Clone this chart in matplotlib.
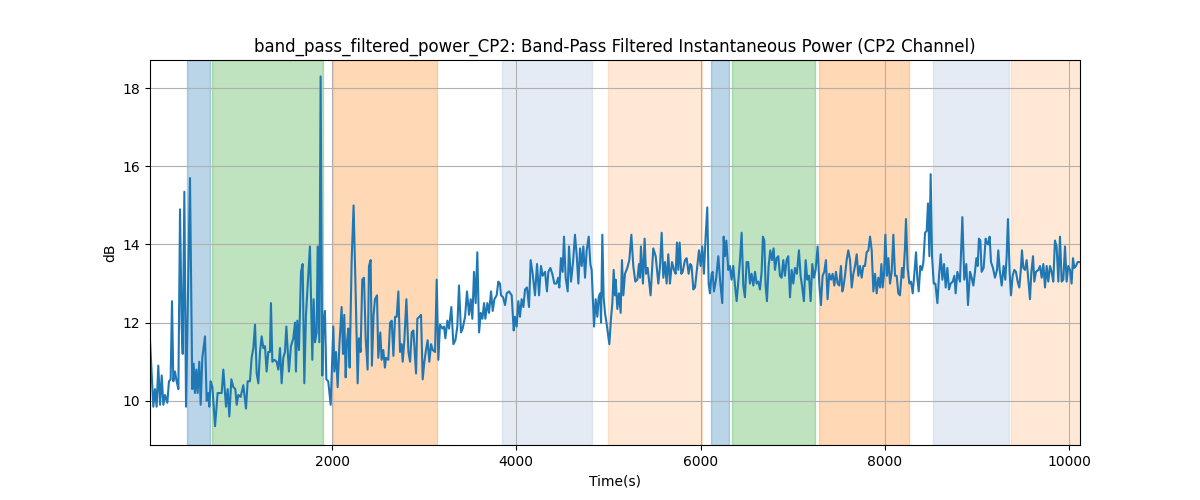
import matplotlib
matplotlib.use("Agg")
import matplotlib.pyplot as plt

time_s = [
    24, 60, 78, 96, 114, 133, 151, 169, 187, 212,
    230, 248, 263, 277, 295, 313, 332, 350, 368, 379,
    397, 415, 458, 483, 498, 512, 527, 541, 559, 574,
    592, 621, 639, 657, 668, 682, 701, 730, 758, 784,
    802, 820, 849, 867, 885, 907, 929, 950, 965, 983,
    1008, 1037, 1066, 1084, 1109, 1127, 1146, 1164, 1182, 1200,
    1218, 1236, 1254,
    1272, 1290, 1308, 1326, 1337, 1352, 1373, 1399, 1417, 1435,
    1453, 1471, 1489, 1504, 1532, 1554, 1580, 1598, 1608, 1623,
    1641, 1663, 1681, 1699, 1717, 1735, 1760, 1786, 1800, 1815,
    1833, 1844, 1862, 1876, 1894, 1909, 1923, 1938, 1959, 1985,
    2014, 2025, 2043, 2061, 2079, 2104, 2119, 2133, 2148, 2162,
    2177, 2191, 2213, 2234, 2256, 2278, 2292, 2310, 2328, 2347,
    2365, 2386, 2401, 2419, 2433, 2451, 2466, 2488, 2502, 2524,
    2538, 2556, 2574,
    2586, 2611, 2630, 2648, 2666, 2684, 2702, 2720, 2738, 2756,
    2767, 2785, 2807, 2829, 2847, 2865, 2883, 2912, 2926, 2948,
    2966, 2984, 3002, 3020, 3038, 3056, 3075, 3093, 3118, 3136,
    3154, 3172, 3198, 3216, 3230, 3252, 3270, 3295, 3317, 3339,
    3360, 3378, 3400, 3418, 3444, 3465, 3487, 3505, 3523, 3541,
    3559, 3577, 3596, 3614, 3632, 3650, 3664, 3686, 3704, 3726,
    3744, 3762, 3787, 3805, 3823,
    3834, 3856, 3878, 3896, 3921, 3950, 3972, 3986, 4004, 4022,
    4040, 4058, 4077, 4095, 4116, 4138, 4156, 4178, 4203, 4225,
    4247, 4268, 4286, 4312, 4333, 4348, 4370, 4391, 4413, 4435,
    4456, 4467, 4485, 4503, 4518, 4536, 4558, 4572, 4594, 4616,
    4637, 4655, 4674, 4692, 4710, 4728, 4746, 4764, 4786, 4804,
    4818, 4844, 4862, 4880, 4894, 4909, 4920, 4934, 4948, 4963,
    4985, 5010, 5028, 5043, 5057, 5071,
    5079, 5097, 5115, 5133, 5147, 5162, 5180, 5205, 5227, 5249,
    5270, 5292, 5314, 5332, 5343, 5353, 5375, 5393, 5408, 5426,
    5458, 5487, 5513, 5542, 5560, 5578, 5596, 5614, 5632, 5650,
    5668, 5690, 5712, 5730, 5744, 5759, 5773, 5791, 5806, 5831,
    5849, 5871, 5889, 5903, 5922, 5940, 5965, 5983, 6001, 6019,
    6037, 6055, 6073, 6088, 6102, 6120, 6131, 6146, 6168, 6193,
    6215, 6236, 6251, 6265, 6280, 6301, 6319,
    6337, 6355, 6374, 6392, 6410, 6428, 6446, 6464, 6482, 6500,
    6518, 6536, 6554, 6573, 6591, 6609, 6627, 6645, 6663, 6677,
    6692, 6706, 6721, 6739, 6757, 6775, 6793, 6808, 6826, 6844,
    6862, 6880, 6898, 6916, 6934, 6952, 6971, 6989, 7007, 7025,
    7046, 7068, 7086, 7104, 7122, 7141, 7159, 7177, 7195, 7213,
    7231, 7249, 7271, 7289, 7307, 7325, 7343, 7361, 7379, 7397,
    7416, 7434, 7452, 7470, 7488, 7506, 7524, 7539,
    7550, 7568, 7586, 7604, 7623, 7641, 7659, 7677, 7695, 7713,
    7731, 7749, 7767, 7785, 7803, 7822, 7840, 7858, 7876, 7894,
    7912, 7930, 7948, 7963, 7977, 7992, 8006, 8024, 8039, 8057,
    8075, 8093, 8111, 8129, 8147, 8165, 8187, 8201, 8219, 8230,
    8248, 8267, 8285, 8303, 8321, 8339, 8353, 8368, 8386, 8404,
    8419, 8437, 8455, 8469, 8484, 8498, 8513, 8531, 8549, 8571,
    8589, 8607, 8625, 8643, 8661, 8679, 8697, 8715, 8737, 8755,
    8769, 8788,
    8816, 8842, 8863, 8885, 8903, 8925, 8943, 8961, 8979, 8994,
    9008, 9022, 9037, 9051, 9073, 9095, 9109, 9124, 9138, 9153,
    9174, 9196, 9218, 9232, 9247, 9269, 9290, 9308, 9323, 9337,
    9355, 9370, 9388, 9406, 9424, 9442, 9460, 9475, 9489, 9504,
    9522, 9540, 9558, 9576, 9591, 9609, 9623, 9641, 9667, 9685,
    9703, 9721, 9739, 9757, 9775, 9793, 9811, 9829, 9847, 9865,
    9884, 9902, 9920, 9938, 9956, 9974, 9992, 10010, 10028, 10043,
    10057, 10075, 10093, 10119,
]

power_db = [
    11.55, 9.85, 10.3, 9.85, 10.9, 9.9, 10.65, 9.9, 10.15, 9.95,
    10.5, 10.55, 12.55, 10.5, 10.75, 10.5, 10.3, 14.9, 11.9, 11.2,
    15.35, 9.85, 15.7, 10.3, 10.95, 10.2, 10.8, 10.2, 11.0, 9.9,
    11.1, 11.65, 10.0, 10.2, 9.85, 10.5, 10.35, 9.35, 10.2, 10.2,
    10.2, 10.8, 9.85, 10.3, 9.6, 10.55, 10.35, 10.3, 9.9, 10.15,
    10.1, 10.4, 9.8, 10.5, 10.5, 11.1, 11.35, 11.95, 10.7, 10.45,
    11.25, 11.65, 11.35,
    11.4, 10.75, 11.25, 11.25, 12.5, 11.0, 11.05, 11.0, 10.8, 11.35,
    10.45, 11.1, 11.25, 11.9, 10.75, 11.4, 11.6, 12.0, 10.75, 12.05,
    11.3, 13.3, 13.5, 10.45, 12.2, 12.95, 13.95, 11.05, 12.6, 11.5,
    11.75, 13.95, 11.5, 18.3, 10.65, 12.1, 12.3, 10.55, 10.5, 9.9,
    11.9, 10.75, 11.25, 10.35, 11.4, 12.4, 11.2, 12.2, 10.6, 11.5,
    11.85, 10.85, 13.6, 15.0, 12.8, 10.45, 11.6, 11.25, 13.1, 13.15,
    11.6, 10.8, 13.45, 13.6, 10.9, 12.2, 12.6, 12.7, 11.1, 11.75,
    11.05, 11.3, 10.85,
    11.1, 11.05, 12.0, 12.05, 11.15, 12.15, 12.15, 12.8, 11.25, 11.45,
    11.0, 11.55, 12.6, 11.25, 11.0, 11.75, 11.8, 10.7, 12.1, 12.15,
    12.2, 10.55, 11.0, 11.3, 11.55, 11.0, 11.45, 11.3, 11.25, 13.1,
    11.05, 11.95, 11.85, 11.9, 11.6, 12.05, 11.85, 12.4, 11.45, 11.55,
    11.9, 12.95, 11.75, 11.85, 12.15, 12.8, 12.2, 12.6, 12.1, 13.3,
    12.5, 13.8, 11.75, 12.25, 12.1, 12.5, 12.1, 12.5, 12.25, 12.8,
    12.3, 12.6, 12.7, 13.05, 13.0,
    12.7, 12.65, 12.45, 12.75, 12.8, 12.7, 11.8, 12.15, 11.9, 12.55,
    12.15, 12.6, 12.4, 12.85, 12.9, 12.4, 13.6, 13.25, 12.7, 13.5,
    12.7, 13.45, 13.2, 13.3, 12.8, 13.3, 13.4, 13.25, 13.0, 13.0,
    13.15, 12.9, 13.65, 13.3, 14.2, 13.15, 12.8, 13.95, 13.05, 13.55,
    14.25, 13.75, 13.0, 13.9, 13.45, 13.95, 13.15, 13.85, 14.2, 13.5,
    13.35, 11.9, 12.6, 12.15, 12.65, 12.75, 12.0, 14.25, 12.65, 12.25,
    11.9, 11.45, 12.1, 12.5, 13.35, 12.7,
    13.1, 12.35, 12.75, 12.25, 13.6, 12.7, 13.25, 13.4, 13.6, 14.25,
    13.45, 13.05, 13.1, 13.5, 13.15, 13.95, 13.0, 14.15, 13.25, 13.4,
    12.7, 13.9, 13.7, 13.0, 13.45, 14.3, 13.15, 13.55, 13.0, 13.75,
    13.0, 13.55, 13.35, 13.25, 14.05, 13.35, 14.05, 13.25, 13.3, 13.6,
    13.65, 13.25, 13.5, 13.45, 12.85, 12.9, 13.45, 13.85, 13.45, 13.95,
    13.25, 14.2, 14.95, 13.0, 12.75, 13.25, 13.3, 12.8, 13.1, 13.7,
    13.0, 12.5, 14.2, 13.7, 14.1, 13.35, 13.45,
    13.1, 13.45, 12.95, 12.55, 13.05, 13.6, 14.3, 12.95, 12.65, 13.55,
    13.55, 13.0, 13.25, 12.95, 13.3, 13.0, 13.05, 12.85, 13.3, 14.2,
    14.1, 12.95, 12.55, 13.45, 13.85, 13.6, 13.9, 13.35, 13.65, 13.7,
    13.2, 13.15, 13.6, 13.2, 13.6, 13.7, 12.65, 13.35, 13.0, 13.4,
    13.25, 13.85, 13.2, 12.9, 12.55, 13.6, 13.1, 13.2, 12.55, 13.5,
    13.15, 13.35, 13.95, 13.0, 12.45, 13.2, 13.3, 13.6, 12.6, 13.25,
    13.1, 13.25, 12.95, 13.3, 13.0, 12.95, 13.45, 12.8,
    12.9, 13.2, 13.6, 13.85, 13.6, 12.9, 13.25, 13.45, 13.75, 13.2,
    13.45, 13.15, 13.45, 13.45, 13.8, 13.85, 14.2, 13.85, 12.8, 13.25,
    12.75, 13.15, 12.9, 13.5, 12.9, 13.25, 14.25, 13.2, 13.65, 13.0,
    13.3, 14.25, 13.2, 13.2, 12.75, 12.7, 13.4, 13.15, 13.9, 14.65,
    13.4, 13.0, 13.05, 12.75, 13.25, 13.8, 13.15, 12.8, 13.45, 13.35,
    13.55, 14.3, 14.35, 15.05, 13.7, 15.8, 13.7, 13.0, 13.0, 12.5,
    13.2, 13.75, 13.1, 13.5, 12.9, 13.4, 12.85, 13.0, 13.05, 13.2,
    12.75, 13.3,
    13.05, 14.7, 13.1, 13.5, 12.45, 13.3, 13.15, 12.95, 13.3, 13.65,
    13.45, 14.15, 14.1, 13.3, 13.4, 14.15, 14.05, 14.0, 14.2, 13.55,
    13.4, 13.15, 13.35, 13.85, 13.35, 12.95, 13.45, 13.1, 13.7, 14.65,
    13.3, 12.7, 13.2, 13.35, 13.3, 13.05, 12.9, 13.3, 13.85, 13.4,
    13.35, 13.6, 13.1, 12.6, 13.3, 13.7, 13.05, 13.3, 13.35, 13.45,
    13.15, 13.5, 12.9, 13.45, 13.05, 13.45, 13.3, 13.05, 14.1, 13.95,
    13.05, 14.2, 13.05, 13.1, 13.95, 13.05, 13.45, 13.35, 13.0, 13.65,
    13.4, 13.45, 13.55, 13.55,
]

span_start = [426, 700, 2012, 3845, 5000, 6113, 6338, 7289, 8527, 9372]
span_end = [680, 1905, 3134, 4818, 6020, 6310, 7240, 8263, 9350, 10200]
span_color = ["C0", "C2", "C1", "lightsteelblue", "C1",
              "C0", "C2", "C1", "lightsteelblue", "C1"]
span_alpha = [0.3, 0.3, 0.3, 0.33, 0.17, 0.3, 0.3, 0.3, 0.33, 0.17]

title = "band_pass_filtered_power_CP2: Band-Pass Filtered Instantaneous Power (CP2 Channel)"

assert len(time_s) == len(power_db), (len(time_s), len(power_db))

fig, ax = plt.subplots(figsize=(12, 5), dpi=100)
for s, e, c, a in zip(span_start, span_end, span_color, span_alpha):
    ax.axvspan(s, e, color=c, alpha=a)
ax.plot(time_s, power_db, color="C0", linewidth=1.5)
ax.set_xlim(time_s[0], time_s[-1])
ax.set_ylim(8.87, 18.72)
ax.set_title(title)
ax.set_xlabel("Time(s)")
ax.set_ylabel("dB")
ax.grid(True)
fig.savefig("out.png", dpi=100)
